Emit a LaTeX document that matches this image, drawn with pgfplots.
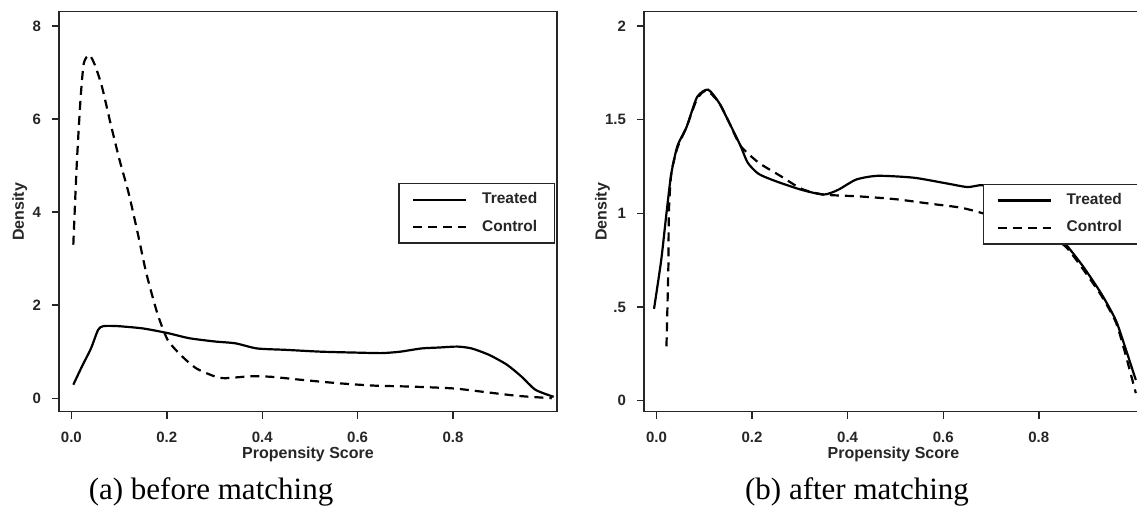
\documentclass[border=0pt]{standalone}
\usepackage{fontspec}
\setmainfont{Liberation Serif}
\setsansfont{Liberation Sans}
\usepackage{pgfplots}
\pgfplotsset{compat=1.18}

\pgfplotsset{
  psm/.style={
    scale only axis, width=249pt, height=200pt,
    axis line style={line width=0.7pt, black!85},
    tick style={line width=0.7pt, black!85},
    tick align=outside, major tick length=3.5pt,
    xtick pos=bottom, ytick pos=left,
    xmin=-0.026, xmax=1.018,
    xtick={0,0.2,0.4,0.6,0.8},
    xticklabels={0.0,0.2,0.4,0.6,0.8},
    ticklabel style={font=\sffamily\bfseries\fontsize{7.5}{9}\selectfont, text=black!85},
    xticklabel style={yshift=-3pt},
    yticklabel style={xshift=-2pt},
    label style={font=\sffamily\bfseries\fontsize{8}{9.6}\selectfont, text=black!85},
    xlabel={Propensity Score},
    ylabel={Density},
    xlabel style={at={(axis description cs:0.5,-0.106)}, anchor=center},
    legend cell align=left,
    legend style={draw=black!85, line width=0.7pt, fill=white,
      inner xsep=6.5pt, inner ysep=2.5pt, row sep=2.5pt, column sep=5.5pt,
      nodes={inner sep=2pt, text=black!85, font=\sffamily\bfseries\fontsize{7.75}{9}\selectfont}},
    legend image code/.code={\draw[#1] (0pt,0pt) -- (26.5pt,0pt);},
  },
  trt/.style={black, solid, line width=1.1pt, smooth, tension=0.4},
  ctrl/.style={black, line width=1.1pt, smooth, tension=0.4, dash pattern=on 4.5pt off 3pt},
}

\begin{document}
\begin{tikzpicture}

% (a) before matching
\begin{axis}[psm,
  at={(29.5pt,48.15pt)}, anchor=south west,
  ymin=-0.29, ymax=8.31,
  ytick={0,2,4,6,8}, yticklabels={0,2,4,6,8},
  ylabel style={at={(axis description cs:-0.079,0.5)}, anchor=center},
  legend style={at={(axis description cs:0.996,0.572)}, anchor=north east},
]
\addplot[trt] coordinates {
(0.004,0.29)(0.022,0.68)(0.041,1.07)(0.056,1.47)(0.067,1.55)(0.097,1.55)
(0.150,1.50)(0.202,1.40)(0.247,1.29)(0.300,1.22)(0.344,1.18)(0.389,1.07)
(0.449,1.04)(0.524,1.00)(0.599,0.98)(0.651,0.97)(0.689,1.00)(0.734,1.07)
(0.771,1.09)(0.809,1.11)(0.839,1.07)(0.876,0.93)(0.913,0.72)(0.943,0.47)
(0.973,0.18)(1.011,0.03)
};
\addplot[ctrl] coordinates {
(0.004,3.30)(0.011,4.98)(0.019,6.41)(0.026,7.20)(0.0375,7.38)(0.049,7.17)
(0.064,6.70)(0.082,5.91)(0.101,5.12)(0.120,4.41)(0.139,3.55)(0.157,2.69)
(0.180,1.83)(0.202,1.25)(0.232,0.90)(0.262,0.64)(0.300,0.47)(0.322,0.43)
(0.374,0.47)(0.419,0.46)(0.487,0.39)(0.562,0.32)(0.636,0.27)(0.711,0.25)
(0.801,0.21)(0.861,0.14)(0.936,0.05)(1.007,0.0)
};
\legend{Treated,Control}
\end{axis}

% (b) after matching
\begin{axis}[psm,
  at={(322pt,48.15pt)}, anchor=south west, width=249.5pt,
  ymin=-0.059, ymax=2.076,
  ytick={0,0.5,1,1.5,2}, yticklabels={0,.5,1,1.5,2},
  ylabel style={at={(axis description cs:-0.083,0.5)}, anchor=center},
  legend style={at={(axis description cs:0.679,0.570)}, anchor=north west},
]
\addplot[trt] coordinates {
(-0.005,0.49)(0.010,0.75)(0.021,1.00)(0.031,1.21)(0.044,1.36)(0.063,1.46)
(0.085,1.62)(0.108,1.66)(0.131,1.59)(0.153,1.48)(0.176,1.36)(0.191,1.27)
(0.214,1.21)(0.251,1.17)(0.304,1.125)(0.350,1.10)(0.380,1.125)(0.418,1.18)
(0.463,1.20)(0.538,1.19)(0.606,1.16)(0.651,1.14)(0.683,1.15)(0.72,1.11)
(0.77,1.04)(0.82,0.94)(0.858,0.83)(0.893,0.715)(0.931,0.57)(0.961,0.43)
(0.980,0.29)(1.003,0.11)
};
\addplot[ctrl] coordinates {
(0.021,0.29)(0.025,0.715)(0.026,1.00)(0.031,1.21)(0.044,1.35)(0.063,1.46)
(0.085,1.61)(0.105,1.655)(0.131,1.59)(0.153,1.48)(0.176,1.36)(0.214,1.27)
(0.259,1.20)(0.304,1.13)(0.350,1.10)(0.425,1.09)(0.501,1.075)(0.576,1.05)
(0.637,1.03)(0.683,1.00)(0.72,0.97)(0.77,0.93)(0.82,0.88)(0.857,0.82)
(0.893,0.70)(0.931,0.56)(0.961,0.42)(0.980,0.26)(1.003,0.04)
};
\legend{Treated,Control}
\end{axis}

\node[anchor=base, font=\fontsize{15.5}{18}\selectfont] at (105.5pt,4pt) {(a) before matching};
\node[anchor=base, font=\fontsize{15.5}{18}\selectfont] at (428.5pt,4pt) {(b) after matching};

\pgfresetboundingbox
\path[use as bounding box] (0,0) rectangle (568.5pt,254pt);
\end{tikzpicture}
\end{document}
